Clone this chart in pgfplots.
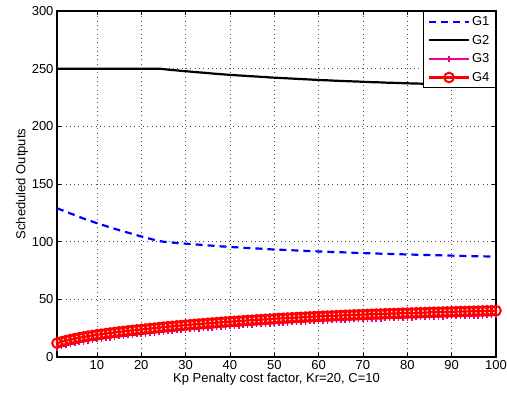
\documentclass[border=0pt]{standalone}
\usepackage{pgfplots}
\usepackage{pgfplotstable}
\pgfplotsset{compat=1.18}
\usepackage{fontspec}
\setmainfont{Liberation Sans}

% Scheduled outputs of the four units against the penalty factor Kp
\pgfplotstableread{
x   G1     G2     G3    G4
1   129.0  250.0  8.2   12.0
2   127.5  250.0  9.4   13.2
3   126.0  250.0  10.4  14.2
4   124.5  250.0  11.3  15.1
5   123.0  250.0  12.1  15.9
6   121.5  250.0  12.9  16.7
7   120.0  250.0  13.6  17.4
8   118.7  250.0  14.3  18.1
9   117.4  250.0  14.9  18.7
10  116.0  250.0  15.5  19.3
11  114.8  250.0  16.0  19.8
12  113.6  250.0  16.5  20.3
13  112.4  250.0  17.0  20.8
14  111.2  250.0  17.5  21.3
15  110.0  250.0  18.0  21.8
16  108.9  250.0  18.4  22.2
17  107.8  250.0  18.9  22.7
18  106.7  250.0  19.3  23.1
19  105.6  250.0  19.7  23.5
20  104.5  250.0  20.1  23.9
21  103.5  250.0  20.5  24.3
22  102.5  250.0  20.9  24.7
23  101.5  250.0  21.3  25.1
24  100.5  250.0  21.7  25.5
25  100.0  249.6  22.1  25.9
26  99.6   249.2  22.5  26.3
27  99.2   248.8  22.8  26.6
28  98.9   248.5  23.2  27.0
29  98.6   248.1  23.5  27.3
30  98.3   247.8  23.9  27.7
31  98.0   247.5  24.2  28.0
32  97.7   247.1  24.5  28.3
33  97.4   246.8  24.8  28.6
34  97.1   246.5  25.1  28.9
35  96.8   246.2  25.4  29.2
36  96.5   245.8  25.7  29.5
37  96.2   245.5  26.0  29.8
38  95.9   245.2  26.3  30.1
39  95.7   244.9  26.6  30.4
40  95.4   244.6  26.9  30.7
41  95.2   244.4  27.1  30.9
42  95.0   244.1  27.4  31.2
43  94.7   243.9  27.6  31.4
44  94.5   243.6  27.9  31.7
45  94.3   243.4  28.1  31.9
46  94.1   243.2  28.4  32.2
47  93.9   242.9  28.6  32.4
48  93.6   242.7  28.9  32.7
49  93.4   242.4  29.1  32.9
50  93.2   242.2  29.4  33.2
51  93.0   242.0  29.6  33.4
52  92.9   241.8  29.8  33.6
53  92.7   241.6  30.0  33.8
54  92.5   241.4  30.2  34.0
55  92.4   241.2  30.4  34.2
56  92.2   241.0  30.6  34.4
57  92.0   240.8  30.8  34.6
58  91.8   240.6  31.0  34.8
59  91.7   240.4  31.2  35.0
60  91.5   240.2  31.4  35.2
61  91.4   240.0  31.6  35.4
62  91.2   239.9  31.7  35.5
63  91.1   239.7  31.9  35.7
64  91.0   239.5  32.0  35.8
65  90.8   239.4  32.2  36.0
66  90.7   239.2  32.4  36.2
67  90.5   239.1  32.5  36.3
68  90.4   238.9  32.7  36.5
69  90.2   238.8  32.8  36.6
70  90.1   238.6  33.0  36.8
71  90.0   238.5  33.1  36.9
72  89.8   238.3  33.3  37.1
73  89.7   238.2  33.4  37.2
74  89.6   238.1  33.5  37.3
75  89.5   237.9  33.7  37.5
76  89.4   237.8  33.8  37.6
77  89.3   237.7  33.9  37.7
78  89.2   237.6  34.0  37.8
79  89.0   237.4  34.2  38.0
80  88.9   237.3  34.3  38.1
81  88.8   237.2  34.4  38.2
82  88.7   237.1  34.5  38.3
83  88.6   237.0  34.6  38.4
84  88.5   236.8  34.7  38.5
85  88.4   236.7  34.9  38.7
86  88.3   236.6  35.0  38.8
87  88.2   236.5  35.1  38.9
88  88.1   236.4  35.2  39.0
89  88.0   236.2  35.3  39.1
90  87.9   236.1  35.4  39.2
91  87.8   236.0  35.5  39.3
92  87.7   235.9  35.6  39.4
93  87.6   235.8  35.7  39.5
94  87.5   235.7  35.8  39.6
95  87.4   235.6  35.9  39.7
96  87.4   235.4  36.0  39.8
97  87.3   235.3  36.1  39.9
98  87.2   235.2  36.2  40.0
99  87.1   235.1  36.3  40.1
100 87.0   235.0  36.4  40.2
}\data

\begin{document}
\begin{tikzpicture}[font=\fontsize{13bp}{15.5bp}\selectfont]
\useasboundingbox (-57bp,-45bp) rectangle (450bp,357bp);
\begin{axis}[
  at={(0,0)}, anchor=south west,
  scale only axis,
  width=439bp, height=346bp,
  xmin=1, xmax=100, ymin=0, ymax=300,
  xtick={10,20,...,100},
  ytick={0,50,...,300},
  /pgf/number format/assume math mode=true,
  tick align=inside,
  major tick length=4bp,
  tick style={black, line width=0.7bp},
  axis line style={black, line width=1.1bp},
  grid=major,
  major grid style={black!70, line width=0.6bp, dash pattern=on 0.8bp off 3.5bp},
  xlabel={Kp Penalty cost factor, Kr=20, C=10},
  ylabel={Scheduled Outputs},
  xlabel style={yshift=3bp},
  ylabel style={yshift=-3bp},
  tick label style={font=\fontsize{13bp}{15.5bp}\selectfont},
  legend style={at={(1,1)}, anchor=north east,
    draw=black, line width=1.1bp, fill=white,
    inner xsep=4bp, inner ysep=3bp, row sep=4bp,
    font=\fontsize{13bp}{15.5bp}\selectfont},
  legend cell align=left,
  legend image code/.code={%
    \draw[mark repeat=2,mark phase=2] plot coordinates {(0bp,0bp) (20bp,0bp) (40bp,0bp)};},
]
\addplot[blue, line width=2.2bp, dash pattern=on 7bp off 5bp] table[x=x, y=G1] {\data};
\addlegendentry{G1}
\addplot[black, line width=2.2bp] table[x=x, y=G2] {\data};
\addlegendentry{G2}
\addplot[magenta, line width=2.2bp, mark=+, mark size=3.2bp,
  mark options={line width=1.6bp, solid}] table[x=x, y=G3] {\data};
\addlegendentry{G3}
\addplot[red, line width=2.2bp, mark=o, mark size=4.8bp,
  mark options={line width=2bp, solid}] table[x=x, y=G4] {\data};
\addlegendentry{G4}
\end{axis}
\end{tikzpicture}
\end{document}
